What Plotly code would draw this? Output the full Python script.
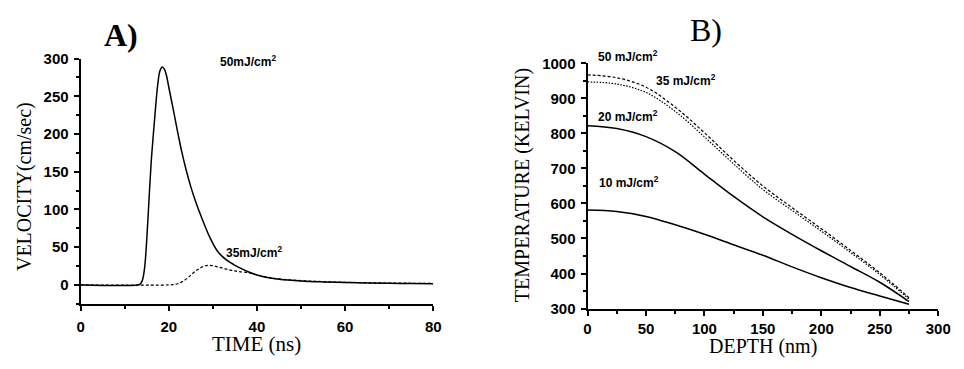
import plotly.graph_objects as go

# ---------------- Panel A: surface velocity vs time ----------------
time_50 = [0, 13, 13.5, 14, 14.5, 15, 15.5, 16, 16.5, 17, 17.5, 18, 18.5, 19, 19.5,
           20, 21, 22, 23, 24, 25, 26, 27, 28, 29, 30, 31, 32, 33, 34, 35, 36, 38,
           40, 42, 45, 50, 55, 60, 65, 70, 75, 80]
vel_50 = [0, 0, 1, 6, 22, 60, 112, 162, 200, 235, 266, 284, 289, 286, 277,
          262, 233, 203, 175, 151, 130, 112, 96, 81, 67, 55, 45, 38.5, 33.5, 29.5, 26, 23, 17.5,
          13.2, 10.2, 7.6, 5.3, 4.0, 3.1, 2.5, 2.1, 1.7, 1.4]

time_35 = [0, 20, 21, 22, 23, 24, 25, 26, 27, 28, 29, 30, 31, 32, 33, 34, 35, 36,
           38, 40, 42, 45, 50, 55, 60, 65, 70, 75, 80]
vel_35 = [0, 0, 0.5, 1.5, 4, 8, 13, 18, 22, 25, 26, 25.5, 24, 22.5, 21, 19.5, 18.5, 17.5,
          16.2, 13.4, 10.6, 7.9, 5.7, 4.4, 3.5, 2.9, 2.5, 2.2, 2.0]

# ---------------- Panel B: temperature vs depth ----------------
depth = [0, 25, 50, 75, 100, 125, 150, 175, 200, 225, 250, 275]
temp_50 = [967, 959, 932, 875, 802, 723, 650, 588, 528, 466, 402, 331]
temp_35 = [947, 941, 917, 863, 790, 713, 640, 580, 521, 460, 397, 327]
temp_20 = [822, 814, 791, 748, 684, 620, 562, 512, 465, 420, 375, 320]
temp_10 = [581, 577, 563, 539, 512, 482, 452, 419, 388, 360, 336, 312]

W, H = 964, 369
SANS = "Liberation Sans"
SERIF = "Liberation Serif"


def fx(p):
    return p / W


def fy(p):
    return 1 - p / H


fig = go.Figure()

line_w = 1.5
fig.add_trace(go.Scatter(x=time_50, y=vel_50, mode="lines", line=dict(color="black", width=line_w),
                         line_shape="spline", xaxis="x", yaxis="y"))
fig.add_trace(go.Scatter(x=time_35, y=vel_35, mode="lines",
                         line=dict(color="black", width=1.2, dash="3px,2px"),
                         line_shape="spline", xaxis="x", yaxis="y"))

fig.add_trace(go.Scatter(x=depth, y=temp_50, mode="lines",
                         line=dict(color="black", width=1.2, dash="3px,2px"),
                         line_shape="spline", xaxis="x2", yaxis="y2"))
fig.add_trace(go.Scatter(x=depth, y=temp_35, mode="lines",
                         line=dict(color="black", width=1.2, dash="1.5px,1.5px"),
                         line_shape="spline", xaxis="x2", yaxis="y2"))
fig.add_trace(go.Scatter(x=depth, y=temp_20, mode="lines", line=dict(color="black", width=line_w),
                         line_shape="spline", xaxis="x2", yaxis="y2"))
fig.add_trace(go.Scatter(x=depth, y=temp_10, mode="lines", line=dict(color="black", width=line_w),
                         line_shape="spline", xaxis="x2", yaxis="y2"))

tickfont = dict(family=SANS, size=15, color="black", weight="bold")
axis_common = dict(
    showline=True, linecolor="black", linewidth=2, showgrid=False, zeroline=False,
    ticks="outside", ticklen=5, tickwidth=1.5, tickcolor="black", tickfont=tickfont,
    fixedrange=True,
)

fig.update_layout(
    width=W, height=H, margin=dict(l=0, r=0, t=0, b=0),
    paper_bgcolor="white", plot_bgcolor="white", showlegend=False,
    xaxis=dict(domain=[fx(78), fx(437)], range=[0, 80], dtick=20, anchor="y",
               minor=dict(ticks="outside", ticklen=3, dtick=10, tickcolor="black"),
               ticklabelstandoff=3, **axis_common),
    yaxis=dict(domain=[fy(309), fy(52)], range=[-25, 300], dtick=50, anchor="x",
               minor=dict(ticks="outside", ticklen=3, dtick=25, tickcolor="black"),
               ticklabelstandoff=2, **axis_common),
    xaxis2=dict(domain=[fx(594), fx(951)], range=[0, 300], dtick=50, anchor="y2",
                minor=dict(ticks="outside", ticklen=3, dtick=25, tickcolor="black"),
                ticklabelstandoff=0, **axis_common),
    yaxis2=dict(domain=[fy(314), fy(57)], range=[300, 1000], dtick=100, anchor="x2",
                minor=dict(ticks="outside", ticklen=3, dtick=50, tickcolor="black"),
                ticklabelstandoff=2, **axis_common),
)

label_font = dict(family=SANS, size=12, color="black", weight="bold")
ann = [
    # curve labels, panel A
    dict(x=31.2, y=297, xref="x", yref="y", text="50mJ/cm<sup>2</sup>"),
    dict(x=32.5, y=44, xref="x", yref="y", text="35mJ/cm<sup>2</sup>"),
    # curve labels, panel B
    dict(x=fx(603), y=fy(49), xref="paper", yref="paper", text="50 mJ/cm<sup>2</sup>"),
    dict(x=56.5, y=952, xref="x2", yref="y2", text="35 mJ/cm<sup>2</sup>"),
    dict(x=7.5, y=850, xref="x2", yref="y2", text="20 mJ/cm<sup>2</sup>"),
    dict(x=8.5, y=660, xref="x2", yref="y2", text="10 mJ/cm<sup>2</sup>"),
]
for a in ann:
    a.update(showarrow=False, xanchor="left", yanchor="middle", font=label_font)

titles = [
    dict(x=fx(119), y=fy(27), text="A)",
         font=dict(family=SERIF, size=32, color="black", weight="bold")),
    dict(x=fx(715), y=fy(22), text="B)",
         font=dict(family=SERIF, size=32, color="black")),
    dict(x=fx(257), y=fy(351), text="TIME (ns)",
         font=dict(family=SERIF, size=21, color="black")),
    dict(x=fx(773), y=fy(354), text="DEPTH (nm)",
         font=dict(family=SERIF, size=20, color="black")),
    dict(x=fx(21), y=fy(186), text="VELOCITY(cm/sec)", textangle=-90,
         font=dict(family=SERIF, size=20, color="black")),
    dict(x=fx(528), y=fy(185), text="TEMPERATURE (KELVIN)", textangle=-90,
         font=dict(family=SERIF, size=20, color="black")),
]
for a in titles:
    a.update(xref="paper", yref="paper", showarrow=False, xanchor="center", yanchor="middle")

fig.update_layout(annotations=ann + titles)

fig.write_html("out.html")
